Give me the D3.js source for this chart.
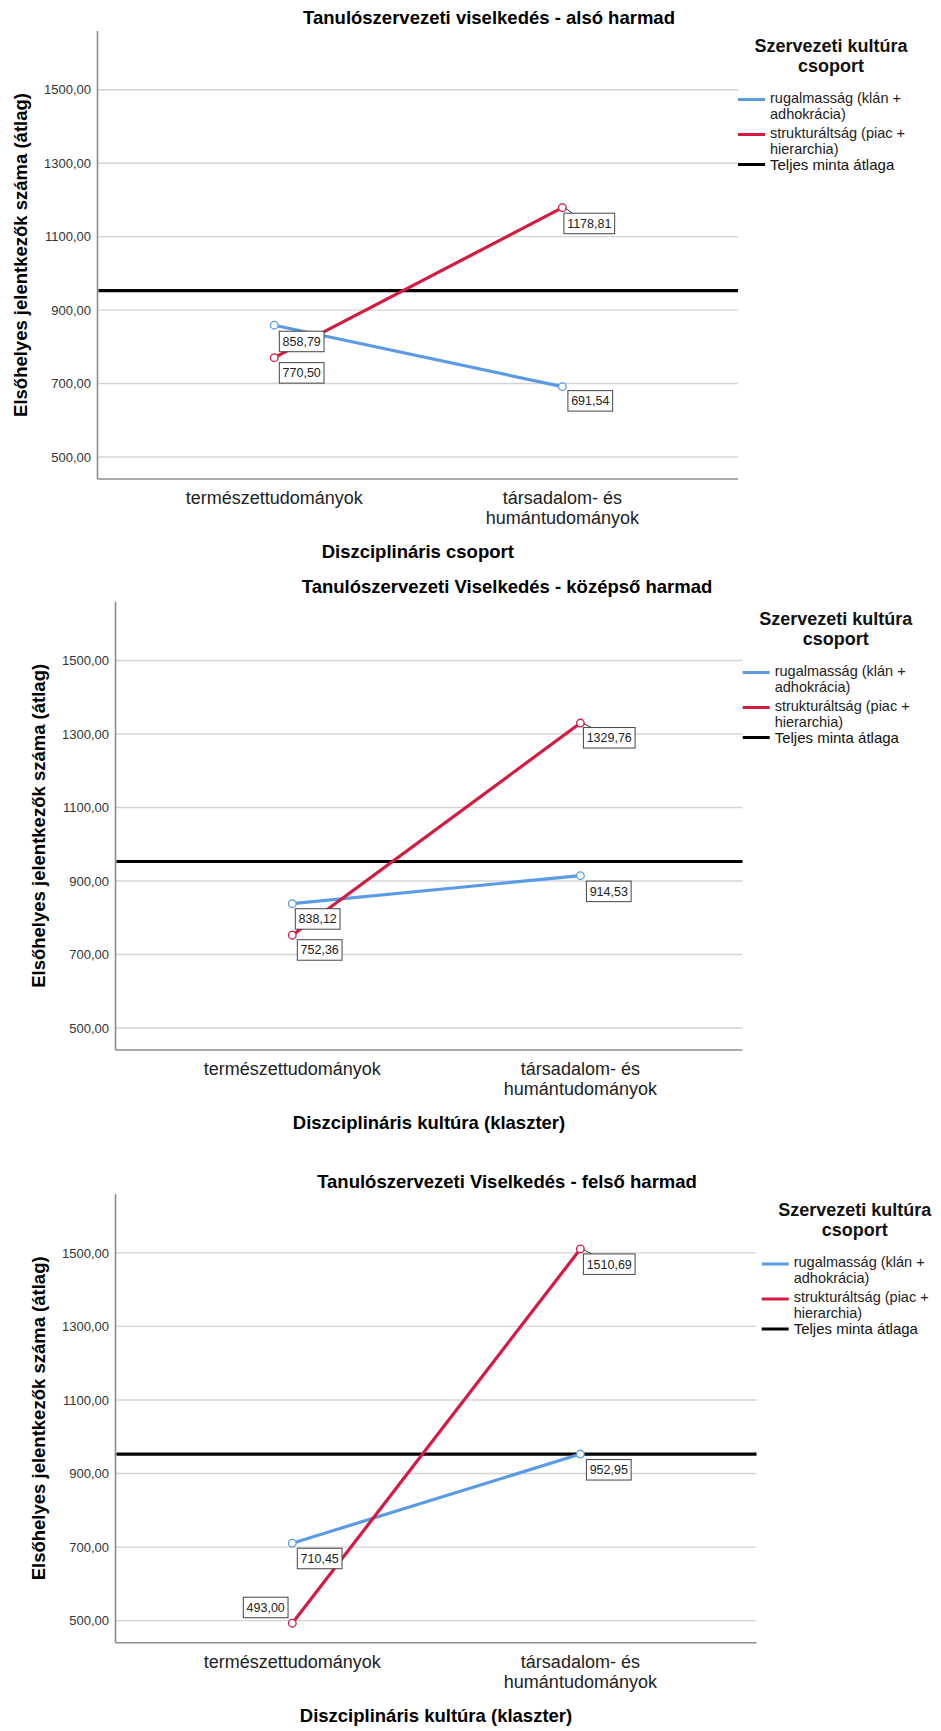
<!DOCTYPE html>
<html><head><meta charset="utf-8">
<script src="https://cdn.jsdelivr.net/npm/d3@7"></script>
<style>
html,body{margin:0;padding:0;background:#fff;}
svg{display:block;}
text{font-family:"Liberation Sans",Arial,sans-serif;}
</style></head>
<body>
<svg id="chart" width="941" height="1731"></svg>
<script>
// ---------- data ----------
const categories = ["természettudományok", "társadalom- és\nhumántudományok"];
const chartTitles = [
  "Tanulószervezeti viselkedés - alsó harmad",
  "Tanulószervezeti Viselkedés - középső harmad",
  "Tanulószervezeti Viselkedés - felső harmad"
];
const xAxisTitles = ["Diszciplináris csoport", "Diszciplináris kultúra (klaszter)", "Diszciplináris kultúra (klaszter)"];
const yAxisTitle = "Elsőhelyes jelentkezők száma (átlag)";
const legendTitle = ["Szervezeti kultúra", "csoport"];
const seriesNames = [["rugalmasság (klán +", "adhokrácia)"], ["strukturáltság (piac +", "hierarchia)"]];
const meanName = "Teljes minta átlaga";
const rugalmassag = [[858.79, 691.54], [838.12, 914.53], [710.45, 952.95]];
const strukturaltsag = [[770.50, 1178.81], [752.36, 1329.76], [493.00, 1510.69]];
const totalMean = 953;
const yTicks = [500, 700, 900, 1100, 1300, 1500];
const yDomain = [440, 1660];

// ---------- layout ----------
const colors = ["#5b9be6", "#d41a40"];
const layout = [
  {left: 97.5, right: 738, top: 31, bottom: 479, cat: [274.3, 562.4], titleX: 489, titleY: 23.5, yTitleX: 27, legX: 738, legY: 99.5},
  {left: 115.5, right: 742.5, top: 601.7, bottom: 1050, cat: [292.3, 580.4], titleX: 507, titleY: 593, yTitleX: 45, legX: 742.7, legY: 672.5},
  {left: 115.5, right: 756.5, top: 1194, bottom: 1642.7, cat: [292.3, 580.4], titleX: 507, titleY: 1188, yTitleX: 45, legX: 761.7, legY: 1264}
];
// label box offsets (top-left of box relative to point), [series][category]
const labelOffsets = [
  [[[5, 6], [5.5, 4]], [[5, 5], [1.5, 5.5]]],
  [[[3, 5], [6, 5.5]], [[5, 4.5], [3, 4.5]]],
  [[[5, 5], [6, 5.5]], [[-49, -26], [3, 5]]]
];
const leaders = [[false, false], [false, true]]; // [series][category]

const fmt = v => d3.format(".2f")(v).replace(".", ",");
const svg = d3.select("#chart");
svg.append("rect").attr("width", 941).attr("height", 1731).attr("fill", "#fff");

layout.forEach((L, ci) => {
  const g = svg.append("g");
  const x = d3.scalePoint().domain(categories).range(L.cat);
  const y = d3.scaleLinear().domain(yDomain).range([L.bottom, L.top]);

  // gridlines
  g.append("g").selectAll("line").data(yTicks).join("line")
    .attr("x1", L.left).attr("x2", L.right)
    .attr("y1", d => y(d)).attr("y2", d => y(d))
    .attr("stroke", "#d4d4d4").attr("stroke-width", 1.4);

  // y axis via d3.axisLeft (labels only)
  const ya = g.append("g").attr("transform", `translate(${L.left},0)`)
    .call(d3.axisLeft(y).tickValues(yTicks).tickSize(0).tickPadding(6.5).tickFormat(fmt));
  ya.select(".domain").remove();
  ya.selectAll("text").attr("font-size", 13).attr("fill", "#333")
    .attr("font-family", "'Liberation Sans',Arial,sans-serif");

  // axis lines
  g.append("line").attr("x1", L.left).attr("x2", L.left).attr("y1", L.top).attr("y2", L.bottom)
    .attr("stroke", "#8c8c8c").attr("stroke-width", 1.6);
  g.append("line").attr("x1", L.left).attr("x2", L.right).attr("y1", L.bottom).attr("y2", L.bottom)
    .attr("stroke", "#8c8c8c").attr("stroke-width", 1.6);

  // mean line
  g.append("line").attr("x1", L.left + 1).attr("x2", L.right)
    .attr("y1", y(totalMean)).attr("y2", y(totalMean))
    .attr("stroke", "#000").attr("stroke-width", 3.2);

  const series = [rugalmassag[ci], strukturaltsag[ci]];
  const line = d3.line().x((d, i) => x(categories[i])).y(d => y(d));
  series.forEach((vals, si) => {
    g.append("path").attr("d", line(vals)).attr("fill", "none")
      .attr("stroke", colors[si]).attr("stroke-width", 3.2);
  });
  series.forEach((vals, si) => {
    g.append("g").selectAll("circle").data(vals).join("circle")
      .attr("cx", (d, i) => x(categories[i])).attr("cy", d => y(d)).attr("r", 3.8)
      .attr("fill", "#fff").attr("stroke", colors[si]).attr("stroke-width", 1.3);
  });

  // data labels
  series.forEach((vals, si) => {
    vals.forEach((v, i) => {
      const px = x(categories[i]), py = y(v);
      const [dx, dy] = labelOffsets[ci][si][i];
      const lg = g.append("g");
      const t = lg.append("text").text(fmt(v)).attr("font-size", 12.5).attr("fill", "#222");
      const tw = t.node().getComputedTextLength();
      const bw = tw + 6.5, bh = 20.5;
      const bx = px + dx, by = py + dy;
      if (leaders[si][i]) {
        lg.insert("line", "text").attr("x1", px + 3).attr("y1", py + 0.5)
          .attr("x2", bx + 9).attr("y2", by + 0.5).attr("stroke", "#333").attr("stroke-width", 1);
      }
      lg.insert("rect", "text").attr("x", bx).attr("y", by).attr("width", bw).attr("height", bh)
        .attr("fill", "#fff").attr("stroke", "#444").attr("stroke-width", 1);
      t.attr("x", bx + bw / 2).attr("y", by + bh / 2).attr("dy", "0.36em").attr("text-anchor", "middle");
    });
  });

  // category labels
  categories.forEach(c => {
    const lines = c.split("\n");
    const t = g.append("text").attr("text-anchor", "middle").attr("font-size", 18).attr("fill", "#222");
    lines.forEach((ln, k) => {
      t.append("tspan").attr("x", x(c)).attr("y", L.bottom + 25 + k * 20).text(ln);
    });
  });

  // titles
  g.append("text").attr("x", L.titleX).attr("y", L.titleY).attr("text-anchor", "middle")
    .attr("font-size", 18.5).attr("font-weight", "bold").attr("fill", "#000").text(chartTitles[ci]);
  g.append("text").attr("x", (L.left + L.right) / 2).attr("y", L.bottom + 79).attr("text-anchor", "middle")
    .attr("font-size", 18.5).attr("font-weight", "bold").attr("fill", "#000").text(xAxisTitles[ci]);
  g.append("text").attr("transform", `translate(${L.yTitleX},${(L.top + L.bottom) / 2}) rotate(-90)`)
    .attr("text-anchor", "middle").attr("font-size", 18.5).attr("font-weight", "bold").attr("fill", "#000")
    .text(yAxisTitle);

  // legend
  const lgx = L.legX, lgy = L.legY;
  legendTitle.forEach((s, k) => {
    g.append("text").attr("x", lgx + 93).attr("y", lgy - 48 + k * 20).attr("text-anchor", "middle")
      .attr("font-size", 18).attr("font-weight", "bold").attr("fill", "#111").text(s);
  });
  const itemYs = [lgy, lgy + 35];
  seriesNames.forEach((nm, si) => {
    g.append("line").attr("x1", lgx).attr("x2", lgx + 27).attr("y1", itemYs[si]).attr("y2", itemYs[si])
      .attr("stroke", colors[si]).attr("stroke-width", 3);
    const t = g.append("text").attr("font-size", 14.5).attr("fill", "#222");
    nm.forEach((ln, k) => t.append("tspan").attr("x", lgx + 32).attr("y", itemYs[si] + 3 + k * 16).text(ln));
  });
  const my = lgy + 65;
  g.append("line").attr("x1", lgx).attr("x2", lgx + 27).attr("y1", my).attr("y2", my)
    .attr("stroke", "#000").attr("stroke-width", 3);
  g.append("text").attr("x", lgx + 32).attr("y", my + 5).attr("font-size", 15)
    .attr("font-family", "Lato, 'Open Sans', sans-serif").attr("fill", "#111").text(meanName);
});
</script>
</body></html>
